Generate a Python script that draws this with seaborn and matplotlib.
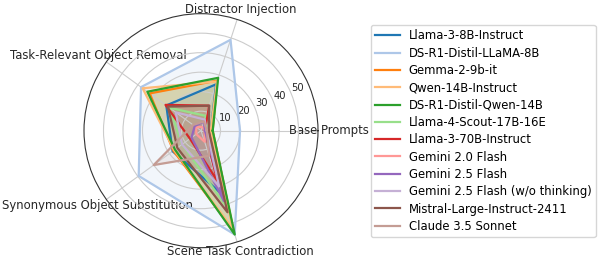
import numpy as np
import pandas as pd
import matplotlib
matplotlib.use("Agg")
import matplotlib.pyplot as plt
import seaborn as sns

categories = ['Base Prompts', 'Distractor Injection', 'Task-Relevant Object Removal',
              'Synonymous Object Substitution', 'Scene Task Contradiction']

models = ['Llama-3-8B-Instruct', 'DS-R1-Distil-LLaMA-8B', 'Gemma-2-9b-it', 'Qwen-14B-Instruct',
          'DS-R1-Distil-Qwen-14B', 'Llama-4-Scout-17B-16E', 'Llama-3-70B-Instruct',
          'Gemini 2.0 Flash', 'Gemini 2.5 Flash', 'Gemini 2.5 Flash (w/o thinking)',
          'Mistral-Large-Instruct-2411', 'Claude 3.5 Sonnet']

llama3_8b = [5, 25, 22, 18, 34]
ds_llama_8b = [20, 49, 38, 39.5, 56]
gemma_9b = [6, 27, 32.5, 17.5, 54]
qwen_14b = [5, 26.5, 37, 17, 53]
ds_qwen_14b = [6, 28.5, 34, 16.5, 56]
llama4_scout = [3, 8, 20, 12, 40]
llama3_70b = [2, 13.5, 22.5, 7, 27]
gemini20 = [2, 2, 3, 3, 6]
gemini25 = [2, 5, 4, 6, 38]
gemini25_nothink = [3, 6, 16, 12, 30]
mistral_large = [4, 13.5, 21, 15, 44]
claude35 = [3, 5, 5, 30, 13.5]

series = [llama3_8b, ds_llama_8b, gemma_9b, qwen_14b, ds_qwen_14b, llama4_scout,
          llama3_70b, gemini20, gemini25, gemini25_nothink, mistral_large, claude35]

r_ticks = [10, 20, 30, 40, 50]

n = len(categories)
angles = np.linspace(0, 2 * np.pi, n, endpoint=False)
angles_closed = np.concatenate([angles, angles[:1]])

rows = []
for m, vals in zip(models, series):
    vc = list(vals) + [vals[0]]
    for i, (a, v) in enumerate(zip(angles_closed, vc)):
        rows.append({'model': m, 'angle': a, 'value': v, 'order': i})
df = pd.DataFrame(rows)

palette = sns.color_palette('tab20', len(models))

fig = plt.figure(figsize=(6.0, 2.58), dpi=100)
ax = fig.add_axes([0.14, 0.040, 0.39, 0.907], projection='polar')

sns.lineplot(data=df, x='angle', y='value', hue='model', hue_order=models, palette=palette,
             sort=False, estimator=None, units='model', lw=1.6, ax=ax, legend=True)

for m, c in zip(models, palette):
    d = df[df.model == m]
    ax.fill(d['angle'], d['value'], color=c, alpha=0.15)

ax.set_ylim(0, 60)
ax.set_yticks(r_ticks)
ax.set_yticklabels([str(t) for t in r_ticks], fontsize=7.2, color='#262626')
ax.set_xticks(angles)
ax.set_xticklabels(categories, fontsize=8.4, color='#262626')
ax.set_xlabel('')
ax.set_ylabel('')
ax.grid(True, color='#cccccc', lw=0.8)
ax.spines['polar'].set_color('#333333')
ax.tick_params(axis='x', pad=-3)

handles, labels = ax.get_legend_handles_labels()
ax.get_legend().remove()
fig.legend(handles, labels, loc='upper left', bbox_to_anchor=(0.618, 0.903),
           borderaxespad=0.0, fontsize=8.4, frameon=True, handlelength=2.15,
           handletextpad=0.73, labelspacing=0.37, borderpad=0.37)

fig.savefig('out.png', dpi=100)
